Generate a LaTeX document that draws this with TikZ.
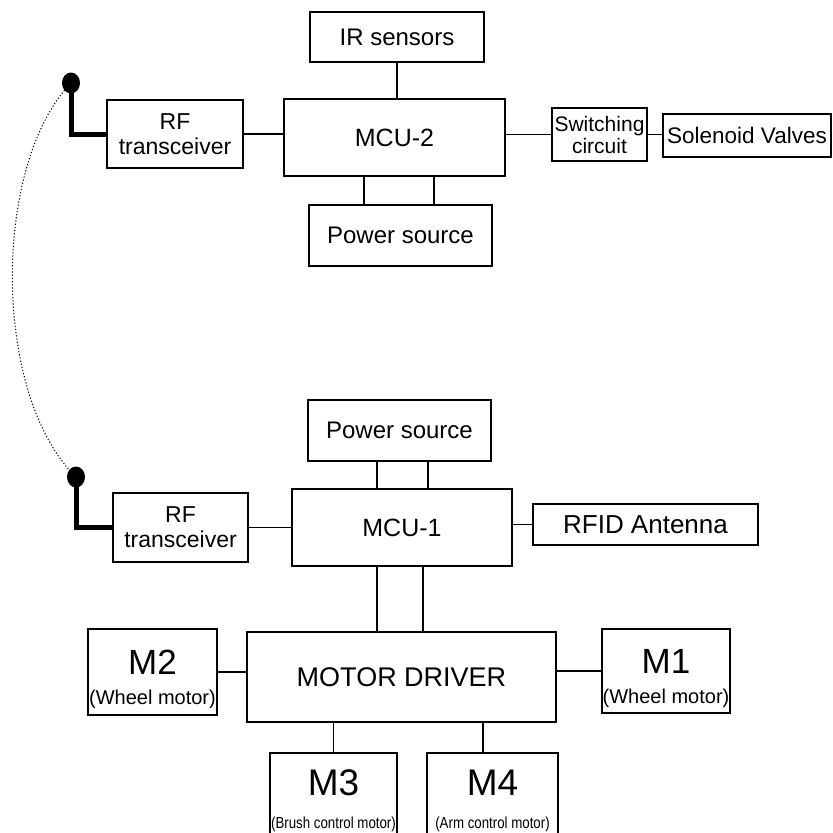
\documentclass[tikz,border=0pt]{standalone}
\usepackage{fontspec}
\setmainfont{Liberation Sans}
\newfontfamily\narrowfont[FakeStretch=0.83]{Liberation Sans}
\newcommand{\pxsize}[2]{\fontsize{#1}{#2}\selectfont}

\begin{document}
\begin{tikzpicture}[x=1pt, y=-1pt,
        blk/.style={draw, line width=1.1pt, inner sep=0pt, align=center},
        motortxt/.style={inner sep=0pt, align=center},
        wire/.style={line width=1.1pt},
        antenna/.style={line width=5pt}]
    \useasboundingbox (0,0) rectangle (833,833);

    % robot side (MCU-2)
    \node[blk, minimum width=174pt, minimum height=50pt, font=\pxsize{24}{28}] (ir) at (397,37) {IR sensors};
    \node[blk, minimum width=221pt, minimum height=77pt, font=\pxsize{25}{30}] (mcutwo) at (394.5,137.5) {MCU-2};
    \node[blk, minimum width=136pt, minimum height=68pt, font=\pxsize{23}{25}] (rftwo) at (175,134) {RF\\transceiver};
    \node[blk, minimum width=95pt, minimum height=53pt, font=\pxsize{21}{22}] (sw) at (599.5,134.5) {Switching\\circuit};
    \node[blk, minimum width=168pt, minimum height=43pt, font=\pxsize{22.5}{26}] (sol) at (747,135.5) {Solenoid Valves};
    \node[blk, minimum width=183pt, minimum height=61pt, font=\pxsize{24}{28}] (pwrtwo) at (400.5,235.5) {Power source};

    \draw[wire] (ir.south) -- (ir.south |- mcutwo.north);
    \draw[wire] ([xshift=-36.5pt]pwrtwo.north) -- ([xshift=-36.5pt]pwrtwo.north |- mcutwo.south);
    \draw[wire] ([xshift=33.5pt]pwrtwo.north) -- ([xshift=33.5pt]pwrtwo.north |- mcutwo.south);
    \draw[wire] (rftwo.east) -- (rftwo.east -| mcutwo.west);
    \draw[wire] (sw.west -| mcutwo.east) -- (sw.west);
    \draw[wire] (sw.east) -- (sw.east -| sol.west);

    % cleaning side (MCU-1)
    \node[blk, minimum width=183pt, minimum height=61pt, font=\pxsize{24}{28}] (pwrone) at (399.5,430.5) {Power source};
    \node[blk, minimum width=220pt, minimum height=77pt, font=\pxsize{25}{30}] (mcuone) at (402,527.5) {MCU-1};
    \node[blk, minimum width=135pt, minimum height=69pt, font=\pxsize{23}{25}] (rfone) at (180.5,527.5) {RF\\transceiver};
    \node[blk, minimum width=225pt, minimum height=41pt, font=\pxsize{26}{30}] (rfid) at (645.5,524.5) {RFID Antenna};
    \node[blk, minimum width=309pt, minimum height=90pt, font=\pxsize{27}{30}] (md) at (401.5,677) {MOTOR DRIVER};

    \node[blk, minimum width=129pt, minimum height=86pt] (m2) at (152.5,672) {};
    \node[blk, minimum width=128pt, minimum height=84pt] (m1) at (666,671) {};
    \node[blk, minimum width=127pt, minimum height=105pt] (m3) at (333.5,805.5) {};
    \node[blk, minimum width=131pt, minimum height=105pt] (m4) at (492.5,805.5) {};

    \node[motortxt, font=\pxsize{20}{30}, yshift=-7.5pt] (m2txt) at (m2.center) {{\pxsize{35}{30}M2}\\(Wheel motor)};
    \node[motortxt, font=\pxsize{20}{30}, yshift=-7.5pt] (m1txt) at (m1.center) {{\pxsize{35}{30}M1}\\(Wheel motor)};
    \node[motortxt, font=\narrowfont\pxsize{16}{33}, yshift=5pt] (m3txt) at (m3.center) {{\rmfamily\pxsize{37}{33}M3}\\(Brush control motor)};
    \node[motortxt, font=\narrowfont\pxsize{16}{33}, yshift=5pt] (m4txt) at (m4.center) {{\rmfamily\pxsize{37}{33}M4}\\(Arm control motor)};

    \draw[wire] ([xshift=-22.5pt]pwrone.south) -- ([xshift=-22.5pt]pwrone.south |- mcuone.north);
    \draw[wire] ([xshift=28.5pt]pwrone.south) -- ([xshift=28.5pt]pwrone.south |- mcuone.north);
    \draw[wire] ([xshift=-25pt]mcuone.south) -- ([xshift=-25pt]mcuone.south |- md.north);
    \draw[wire] ([xshift=21pt]mcuone.south) -- ([xshift=21pt]mcuone.south |- md.north);
    \draw[wire] (rfone.east) -- (rfone.east -| mcuone.west);
    \draw[wire] (mcuone.east |- rfid.west) -- (rfid.west);
    \draw[wire] (m2.east) -- (m2.east -| md.west);
    \draw[wire] (m1.west) -- (m1.west -| md.east);
    \draw[wire] (m3.north) -- (m3.north |- md.south);
    \draw[wire] ([xshift=-9.5pt]m4.north) -- ([xshift=-9.5pt]m4.north |- md.south);

    % radio link
    \coordinate (anttwo) at (71,83);
    \coordinate (antone) at (76,477);
    \draw[line width=1pt, dash pattern=on 1.2pt off 2pt] (anttwo) .. controls (-8,165) and (-8,395) .. (antone);
    \draw[antenna] (anttwo) |- (rftwo.west);
    \draw[antenna] (antone) |- (rfone.west);
    \fill (anttwo) ellipse [x radius=9pt, y radius=10.5pt];
    \fill (antone) ellipse [x radius=9pt, y radius=10.5pt];
\end{tikzpicture}
\end{document}
